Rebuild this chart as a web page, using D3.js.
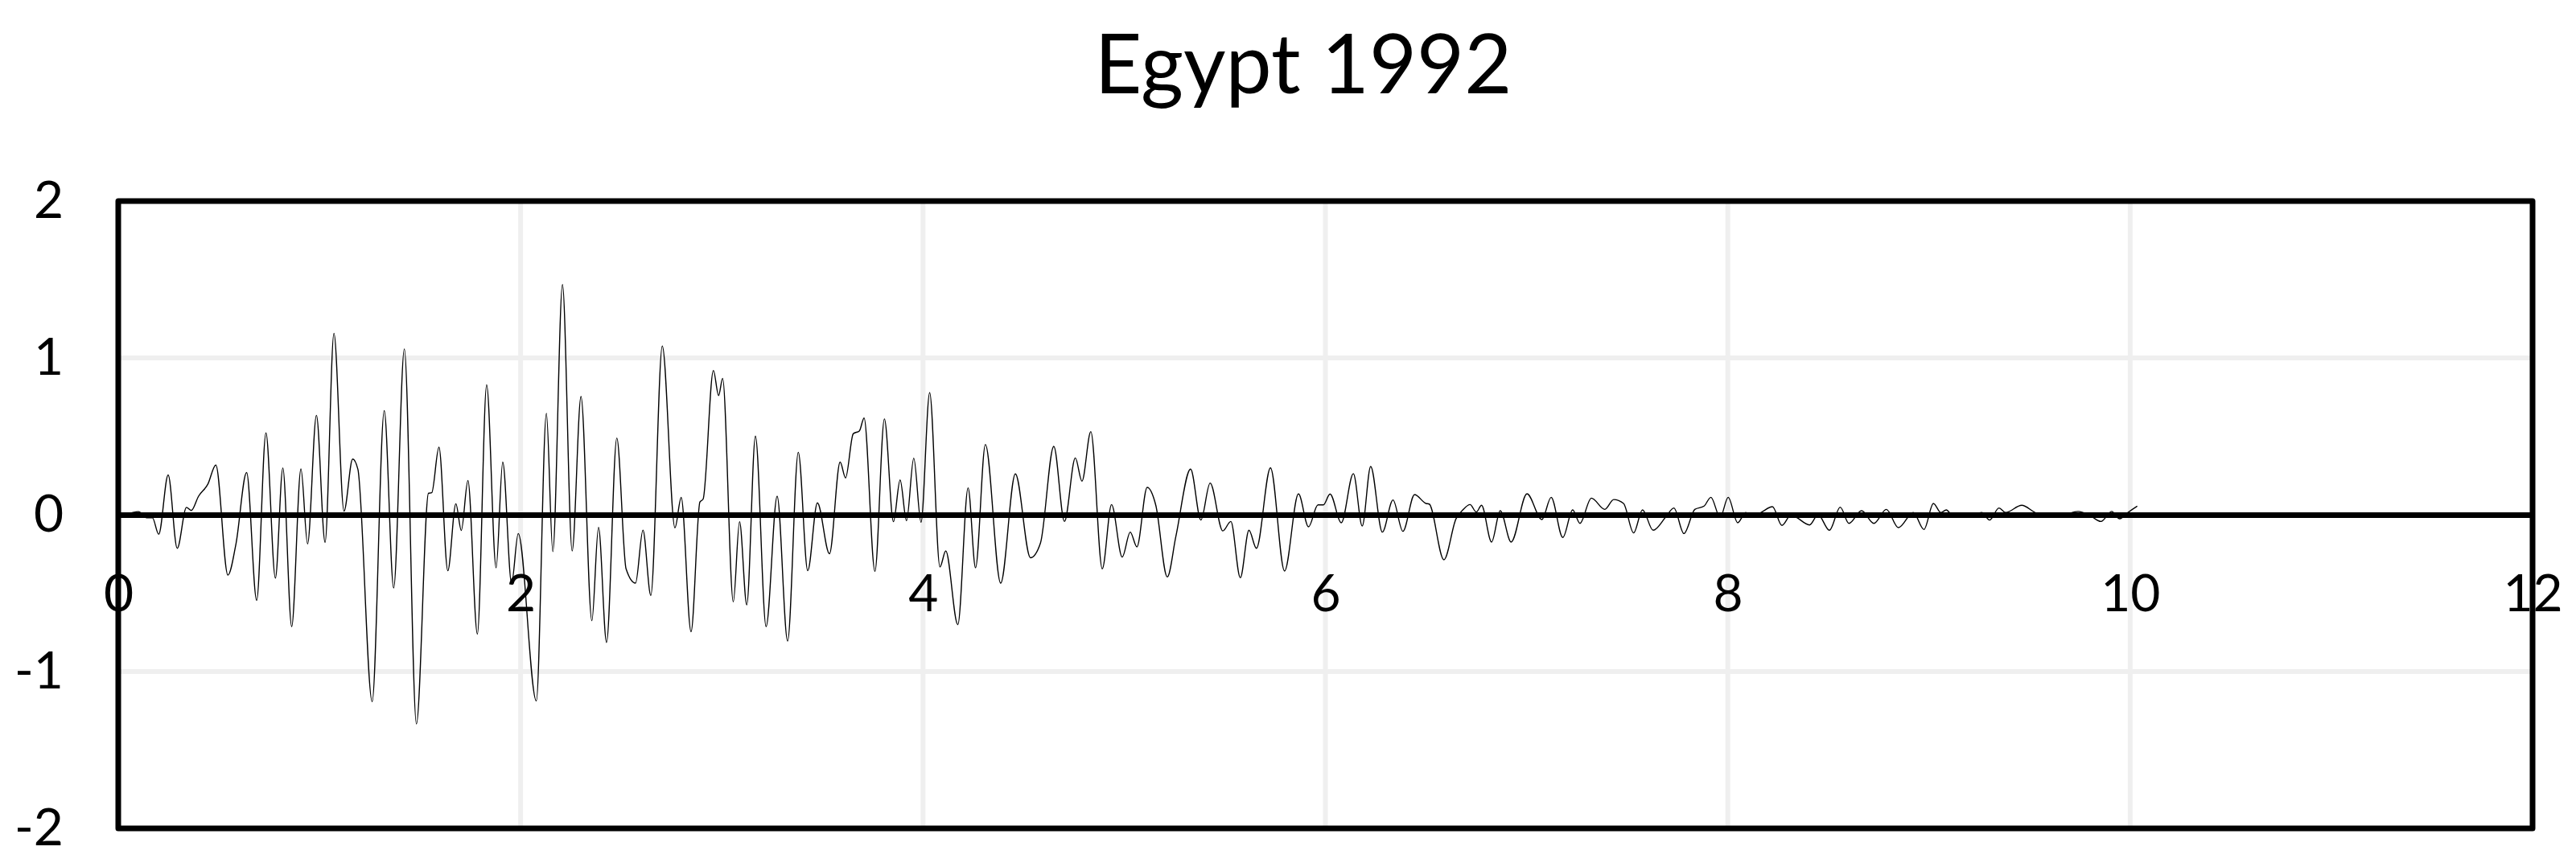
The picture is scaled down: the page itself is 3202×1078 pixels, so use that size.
<!DOCTYPE html>
<html>
<head>
<meta charset="utf-8">
<script src="https://cdn.jsdelivr.net/npm/d3@7"></script>
<style>
  html, body { margin: 0; padding: 0; background: #ffffff; }
  svg { display: block; }
  text { font-family: Lato, "Open Sans", sans-serif; fill: #000; }
</style>
</head>
<body>
<svg id="chart" width="3202" height="1078"></svg>
<script>
// ---- data ----
const title = "Egypt 1992";
const xTicks = [0, 2, 4, 6, 8, 10, 12];
const yTicks = [-2, -1, 0, 1, 2];

const time = [
  0.00, 0.02, 0.06, 0.10, 0.125, 0.14, 0.17, 0.201, 0.248, 0.293,
  0.339, 0.363, 0.399, 0.445, 0.485, 0.545, 0.585, 0.638, 0.688, 0.734,
  0.781, 0.818, 0.862, 0.908, 0.941, 0.985, 1.028, 1.072, 1.122, 1.165,
  1.191, 1.262, 1.322, 1.369, 1.422, 1.482, 1.542, 1.558, 1.594, 1.638,
  1.678, 1.705, 1.738, 1.785, 1.831, 1.878, 1.911, 1.955, 1.988, 2.078,
  2.128, 2.160, 2.208, 2.256, 2.300, 2.354, 2.387, 2.427, 2.478, 2.524,
  2.571, 2.608, 2.647, 2.704, 2.767, 2.798, 2.847, 2.891, 2.907, 2.958,
  2.984, 3.004, 3.057, 3.088, 3.124, 3.167, 3.220, 3.275, 3.327, 3.380,
  3.427, 3.475, 3.535, 3.588, 3.615, 3.653, 3.684, 3.707, 3.761, 3.808,
  3.853, 3.886, 3.918, 3.954, 3.990, 4.033, 4.084, 4.113, 4.173, 4.224,
  4.261, 4.310, 4.386, 4.459, 4.534, 4.584, 4.650, 4.703, 4.757, 4.790,
  4.834, 4.891, 4.937, 4.990, 5.030, 5.063, 5.114, 5.157, 5.214, 5.257,
  5.330, 5.381, 5.427, 5.490, 5.530, 5.577, 5.620, 5.657, 5.727, 5.797,
  5.866, 5.916, 5.963, 5.990, 6.023, 6.079, 6.139, 6.183, 6.225, 6.283,
  6.336, 6.385, 6.443, 6.500, 6.516, 6.589, 6.649, 6.683, 6.719, 6.750,
  6.776, 6.826, 6.869, 6.923, 7.002, 7.076, 7.122, 7.180, 7.229, 7.265,
  7.322, 7.389, 7.433, 7.482, 7.532, 7.576, 7.629, 7.692, 7.732, 7.782,
  7.836, 7.882, 7.916, 7.962, 8.002, 8.049, 8.089, 8.126, 8.169, 8.222,
  8.269, 8.315, 8.342, 8.406, 8.449, 8.505, 8.559, 8.602, 8.665, 8.726,
  8.788, 8.848, 8.922, 8.975, 9.022, 9.059, 9.086, 9.114, 9.208, 9.262,
  9.301, 9.348, 9.381, 9.461, 9.528, 9.595, 9.675, 9.741, 9.795, 9.855,
  9.908, 9.948, 9.988, 10.035
];

const accel = [
  0.000, 0.000, 0.010, 0.020, 0.000, -0.020, -0.020, -0.125, 0.254, -0.214,
  0.047, 0.027, 0.118, 0.194, 0.317, -0.385, -0.186, 0.269, -0.546, 0.522,
  -0.404, 0.298, -0.713, 0.292, -0.186, 0.634, -0.176, 1.157, 0.023, 0.355,
  0.290, -1.192, 0.664, -0.467, 1.057, -1.334, 0.137, 0.140, 0.431, -0.357,
  0.070, -0.100, 0.218, -0.761, 0.829, -0.338, 0.336, -0.438, -0.120, -1.187,
  0.646, -0.235, 1.468, -0.231, 0.754, -0.676, -0.080, -0.814, 0.489, -0.345,
  -0.436, -0.098, -0.515, 1.076, -0.083, 0.110, -0.746, 0.081, 0.100, 0.920,
  0.760, 0.870, -0.556, -0.044, -0.575, 0.501, -0.713, 0.118, -0.806, 0.398,
  -0.357, 0.076, -0.249, 0.336, 0.235, 0.516, 0.535, 0.617, -0.361, 0.611,
  -0.044, 0.222, -0.038, 0.361, -0.048, 0.778, -0.333, -0.231, -0.701, 0.171,
  -0.338, 0.448, -0.436, 0.260, -0.274, -0.179, 0.436, -0.043, 0.362, 0.214,
  0.530, -0.345, 0.065, -0.270, -0.111, -0.205, 0.174, 0.060, -0.397, -0.137,
  0.291, -0.034, 0.202, -0.103, -0.043, -0.402, -0.099, -0.214, 0.299, -0.359,
  0.133, -0.077, 0.063, 0.063, 0.132, -0.051, 0.262, -0.072, 0.308, -0.111,
  0.094, -0.106, 0.128, 0.072, 0.068, -0.287, -0.026, 0.031, 0.065, 0.017,
  0.060, -0.174, 0.026, -0.174, 0.133, -0.031, 0.111, -0.145, 0.031, -0.055,
  0.106, 0.034, 0.097, 0.072, -0.116, 0.031, -0.099, -0.014, 0.043, -0.120,
  0.034, 0.055, 0.111, -0.017, 0.111, -0.051, 0.014, -0.014, 0.017, 0.051,
  -0.068, 0.000, -0.017, -0.065, 0.000, -0.099, 0.048, -0.055, 0.026, -0.055,
  0.034, -0.082, 0.014, -0.094, 0.072, 0.014, 0.031, 0.000, -0.003, 0.014,
  -0.034, 0.043, 0.014, 0.060, 0.014, -0.014, 0.000, 0.021, 0.000, -0.043,
  0.021, -0.026, 0.014, 0.055
];

// ---- layout ----
const svg = d3.select("#chart");
const plot = { left: 147, right: 3148, top: 250, bottom: 1030 };

const x = d3.scaleLinear().domain([0, 12]).range([plot.left, plot.right]);
const y = d3.scaleLinear().domain([-2, 2]).range([plot.bottom, plot.top]);

const plainFormat = d => String(d);   // hyphen-minus, as in the reference

// gridlines
const grid = svg.append("g").attr("class", "grid");
grid.selectAll("line.v")
  .data(xTicks.filter(d => d > 0 && d < 12))
  .join("line")
  .attr("x1", d => x(d)).attr("x2", d => x(d))
  .attr("y1", plot.top).attr("y2", plot.bottom)
  .attr("stroke", "#efefef").attr("stroke-width", 6);
grid.selectAll("line.h")
  .data(yTicks.filter(d => d > -2 && d < 2))
  .join("line")
  .attr("x1", plot.left).attr("x2", plot.right)
  .attr("y1", d => y(d)).attr("y2", d => y(d))
  .attr("stroke", "#efefef").attr("stroke-width", 6);

// data line
const pts = time.map((t, i) => [t, accel[i]]);
const line = d3.line()
  .x(d => x(d[0]))
  .y(d => y(d[1]))
  .curve(d3.curveMonotoneX);
svg.append("path")
  .datum(pts)
  .attr("d", line)
  .attr("fill", "none")
  .attr("stroke", "#000")
  .attr("stroke-width", 1.4)
  .attr("stroke-linejoin", "round");

// zero axis line (horizontal axis at y = 0)
const xAxis = d3.axisBottom(x).tickValues(xTicks).tickSize(0).tickPadding(0)
  .tickFormat(plainFormat);
const gx = svg.append("g")
  .attr("transform", `translate(0,${y(0)})`)
  .call(xAxis);
gx.select(".domain").attr("stroke", "#000").attr("stroke-width", 7);
gx.selectAll("text")
  .attr("font-size", 64)
  .attr("font-family", "Lato, 'Open Sans', sans-serif")
  .attr("fill", "#000")
  .attr("dy", null)
  .attr("y", 120);

// plot border
svg.append("rect")
  .attr("x", plot.left).attr("y", plot.top)
  .attr("width", plot.right - plot.left)
  .attr("height", plot.bottom - plot.top)
  .attr("fill", "none")
  .attr("stroke", "#000")
  .attr("stroke-width", 7)
  .attr("stroke-linejoin", "round");

// y axis labels
const yAxis = d3.axisLeft(y).tickValues(yTicks).tickSize(0).tickPadding(68)
  .tickFormat(plainFormat);
const gy = svg.append("g")
  .attr("transform", `translate(${plot.left},0)`)
  .call(yAxis);
gy.select(".domain").remove();
gy.selectAll("text")
  .attr("font-size", 64)
  .attr("font-family", "Lato, 'Open Sans', sans-serif")
  .attr("fill", "#000");

// title
svg.append("text")
  .attr("x", 1620).attr("y", 116)
  .attr("text-anchor", "middle")
  .attr("font-size", 102)
  .text(title);
</script>
</body>
</html>
